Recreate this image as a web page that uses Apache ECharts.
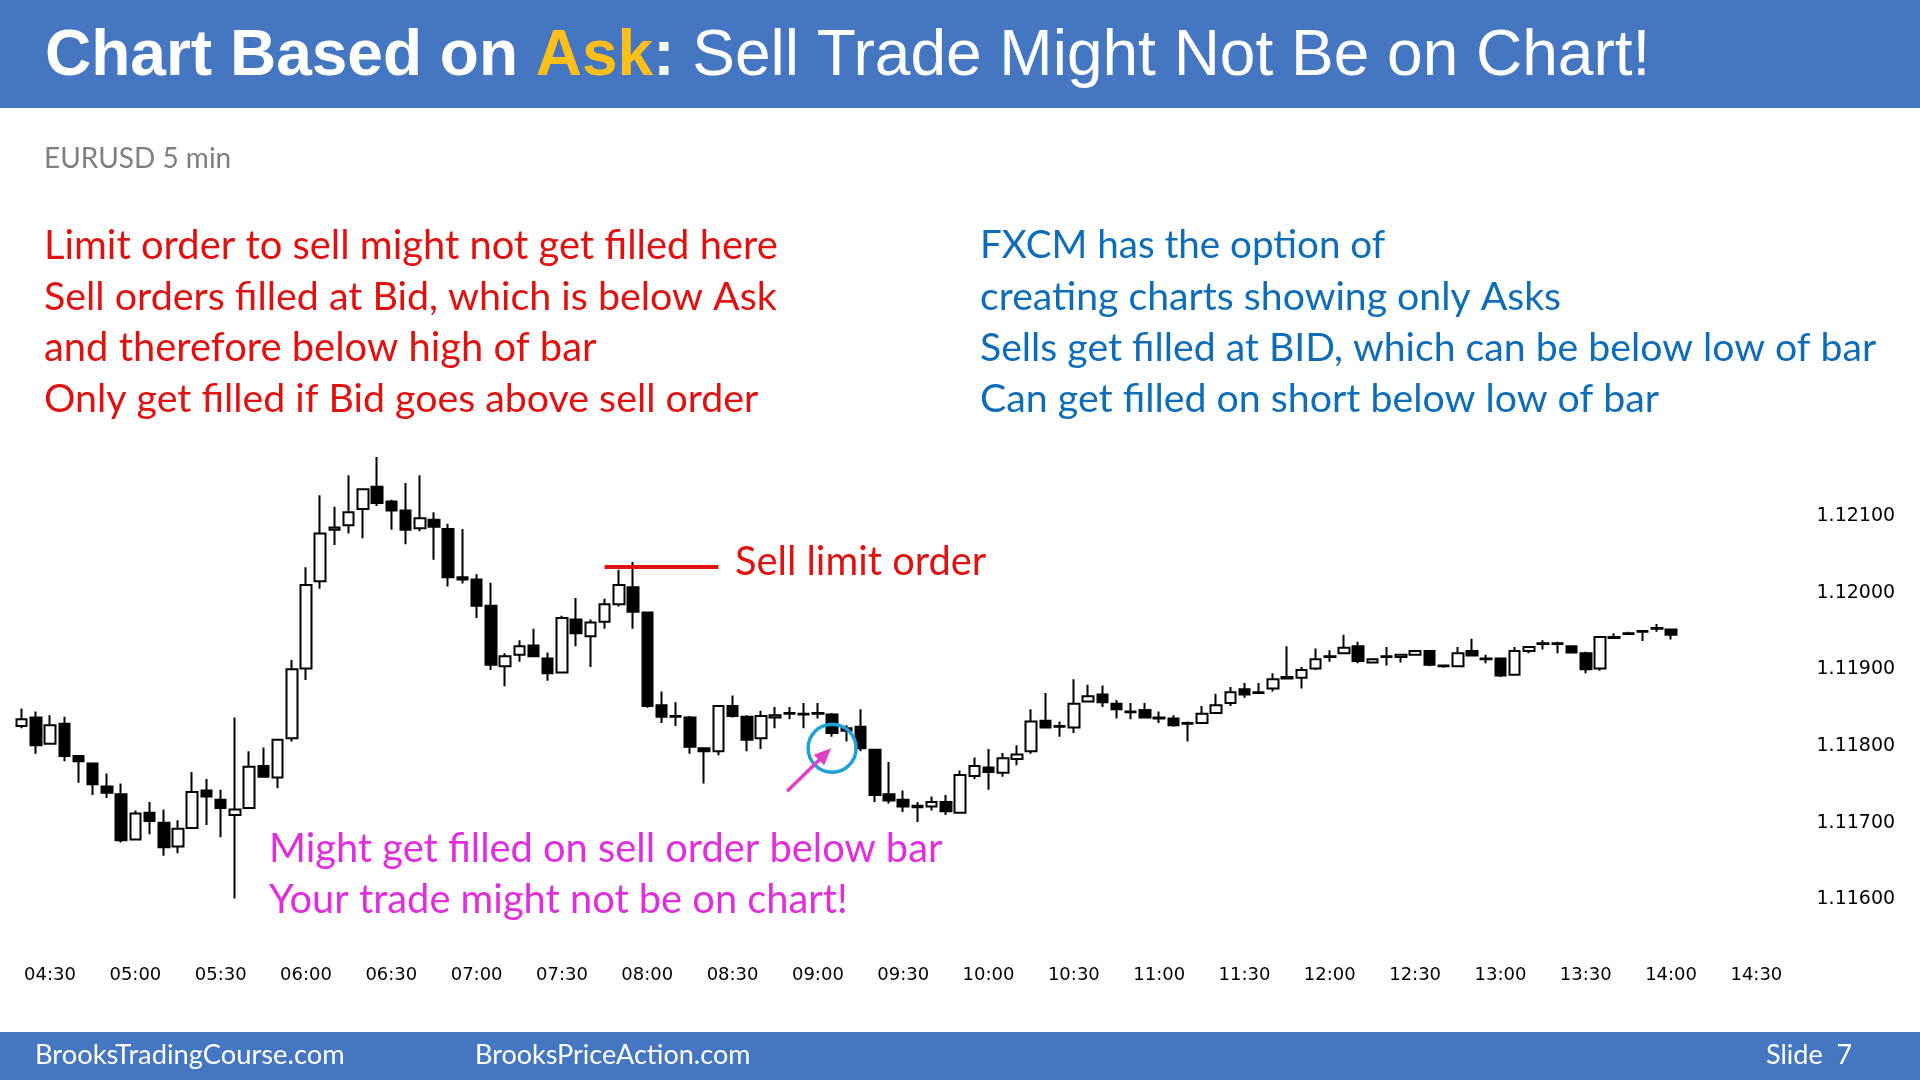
<!DOCTYPE html>
<html>
<head>
<meta charset="utf-8">
<script src="https://cdn.jsdelivr.net/npm/echarts/dist/echarts.min.js"></script>
<style>
html,body{margin:0;padding:0;background:#fff;}
#chart{width:1920px;height:1080px;}
</style>
</head>
<body>
<div id="chart"></div>
<script>
// ---- data ----
const startTime = '04:20';
const barMinutes = 5;
const categoryCount = 123; // 04:20 .. 14:30
const categories = [];
(function(){
  const p = startTime.split(':');
  const s = (+p[0]) * 60 + (+p[1]);
  for (let i = 0; i < categoryCount; i++) {
    const m = s + barMinutes * i;
    categories.push(String(Math.floor(m / 60)).padStart(2, '0') + ':' + String(m % 60).padStart(2, '0'));
  }
})();

const opens = [
1.11826,1.11837,1.11803,1.11829,1.11787,1.11777,1.11747,1.11737,1.11678,1.11713,
1.11700,1.11669,1.11693,1.11742,1.11730,1.11710,1.11719,1.11774,1.11759,1.11810,
1.11901,1.12015,1.12082,1.12088,1.12109,1.12138,1.12119,1.12107,1.12084,1.12095,
1.12083,1.12020,1.12017,1.11983,1.11904,1.11919,1.11931,1.11914,1.11896,1.11965,
1.11943,1.11962,1.11985,1.12007,1.11974,1.11853,1.11839,1.11837,1.11797,1.11793,
1.11852,1.11838,1.11810,1.11837,1.11842,1.11841,1.11843,1.11841,1.11823,1.11825,
1.11795,1.11737,1.11730,1.11722,1.11721,1.11727,1.11713,1.11761,1.11772,1.11765,
1.11783,1.11793,1.11833,1.11826,1.11824,1.11858,1.11867,1.11855,1.11845,1.11847,
1.11837,1.11836,1.11830,1.11830,1.11843,1.11856,1.11874,1.11870,1.11875,1.11890,
1.11889,1.11901,1.11916,1.11921,1.11930,1.11909,1.11917,1.11916,1.11919,1.11924,
1.11905,1.11904,1.11924,1.11914,1.11914,1.11893,1.11924,1.11933,1.11934,1.11930,
1.11921,1.11901,1.11941,1.11946,1.11950,1.11953,1.11952
];
const closes = [
1.11835,1.11801,1.11827,1.11787,1.11780,1.11750,1.11739,1.11677,1.11712,1.11702,
1.11668,1.11692,1.11740,1.11734,1.11719,1.11717,1.11773,1.11760,1.11808,1.11900,
1.12010,1.12077,1.12085,1.12105,1.12135,1.12117,1.12107,1.12082,1.12097,1.12086,
1.12020,1.12017,1.11983,1.11906,1.11917,1.11930,1.11917,1.11895,1.11967,1.11947,
1.11961,1.11985,1.12010,1.11975,1.11852,1.11838,1.11838,1.11799,1.11793,1.11852,
1.11839,1.11808,1.11839,1.11840,1.11843,1.11842,1.11842,1.11817,1.11820,1.11797,
1.11736,1.11729,1.11721,1.11720,1.11727,1.11715,1.11762,1.11774,1.11766,1.11784,
1.11789,1.11832,1.11824,1.11825,1.11855,1.11865,1.11857,1.11848,1.11844,1.11837,
1.11836,1.11827,1.11829,1.11842,1.11853,1.11870,1.11867,1.11869,1.11887,1.11888,
1.11899,1.11913,1.11917,1.11928,1.11911,1.11913,1.11916,1.11919,1.11924,1.11906,
1.11904,1.11921,1.11918,1.11913,1.11892,1.11924,1.11929,1.11934,1.11933,1.11922,
1.11900,1.11942,1.11942,1.11947,1.11949,1.11954,1.11945
];
const lows = [
1.11823,1.11790,1.11803,1.11780,1.11752,1.11736,1.11732,1.11674,1.11677,1.11685,
1.11657,1.11660,1.11692,1.11697,1.11681,1.11601,1.11718,1.11759,1.11745,1.11806,
1.11886,1.12005,1.12062,1.12077,1.12071,1.12113,1.12082,1.12063,1.12080,1.12043,
1.12008,1.12012,1.11967,1.11899,1.11878,1.11910,1.11916,1.11885,1.11895,1.11930,
1.11903,1.11953,1.11982,1.11953,1.11850,1.11830,1.11826,1.11790,1.11751,1.11788,
1.11837,1.11793,1.11796,1.11823,1.11835,1.11823,1.11836,1.11812,1.11806,1.11793,
1.11727,1.11725,1.11714,1.11701,1.11716,1.11710,1.11712,1.11757,1.11743,1.11760,
1.11775,1.11790,1.11823,1.11812,1.11817,1.11857,1.11851,1.11836,1.11835,1.11836,
1.11830,1.11825,1.11806,1.11829,1.11843,1.11852,1.11863,1.11868,1.11871,1.11887,
1.11875,1.11899,1.11910,1.11920,1.11908,1.11909,1.11905,1.11909,1.11918,1.11904,
1.11902,1.11903,1.11918,1.11908,1.11890,1.11892,1.11921,1.11926,1.11921,1.11921,
1.11895,1.11898,1.11940,1.11945,1.11937,1.11949,1.11939
];
const highs = [
1.11849,1.11845,1.11840,1.11838,1.11787,1.11777,1.11764,1.11751,1.11716,1.11727,
1.11717,1.11703,1.11766,1.11757,1.11743,1.11837,1.11793,1.11798,1.11809,1.11912,
1.12033,1.12127,1.12112,1.12153,1.12136,1.12177,1.12121,1.12143,1.12153,1.12105,
1.12090,1.12083,1.12024,1.12013,1.11921,1.11938,1.11953,1.11922,1.11970,1.11993,
1.11965,1.11992,1.12030,1.12040,1.11975,1.11871,1.11857,1.11839,1.11797,1.11853,
1.11866,1.11840,1.11846,1.11851,1.11851,1.11856,1.11856,1.11843,1.11827,1.11848,
1.11796,1.11779,1.11742,1.11727,1.11734,1.11736,1.11768,1.11785,1.11796,1.11791,
1.11801,1.11848,1.11869,1.11832,1.11887,1.11880,1.11879,1.11860,1.11856,1.11856,
1.11845,1.11840,1.11832,1.11852,1.11868,1.11877,1.11882,1.11882,1.11895,1.11930,
1.11903,1.11927,1.11925,1.11945,1.11936,1.11913,1.11929,1.11920,1.11925,1.11925,
1.11906,1.11929,1.11940,1.11919,1.11915,1.11929,1.11930,1.11938,1.11936,1.11931,
1.11923,1.11943,1.11947,1.11949,1.11951,1.11959,1.11953
];

const sellLimitPrice = 1.12034;
const sellLimitFromBar = 41;
const sellLimitToBar = 49;
const circleBar = 57;
const circlePrice = 1.11797;

const yMin = 1.115, yMax = 1.122, yStep = 0.001;

const titleBold = 'Chart Based on ';
const titleAsk = 'Ask';
const titleRest = ' Sell Trade Might Not Be on Chart!';
const subTitle = 'EURUSD 5 min';
const redLines = [
  'Limit order to sell might not get filled here',
  'Sell orders filled at Bid, which is below Ask',
  'and therefore below high of bar',
  'Only get filled if Bid goes above sell order'
];
const blueLines = [
  'FXCM has the option of',
  'creating charts showing only Asks',
  'Sells get filled at BID, which can be below low of bar',
  'Can get filled on short below low of bar'
];
const magentaLines = [
  'Might get filled on sell order below bar',
  'Your trade might not be on chart!'
];
const sellLimitLabel = 'Sell limit order';
const footerLeft = 'BrooksTradingCourse.com';
const footerMid = 'BrooksPriceAction.com';
const footerRight = 'Slide  7';

// ---- chart ----
const candleData = opens.map((o, i) => [o, closes[i], lows[i], highs[i]]);
const chart = echarts.init(document.getElementById('chart'), null, {renderer: 'canvas'});

const RED = '#E0110F', BLUE = '#0E6DB8', MAGENTA = '#E12DDE', HEADER = '#4576C2';
const TXT_FONT = 'Lato';

chart.setOption({
  animation: false,
  backgroundColor: '#ffffff',
  grid: {left: 14.5, right: 156.5, top: 439.3, bottom: 104},
  xAxis: {
    type: 'category', data: categories, boundaryGap: true, offset: -20,
    axisLine: {show: false}, axisTick: {show: false}, splitLine: {show: false},
    axisLabel: {
      interval: function (idx) { return (idx - 2) % 6 === 0; },
      color: '#000', fontFamily: 'DejaVu Sans', fontSize: 18, margin: 10
    }
  },
  yAxis: {
    type: 'value', position: 'right', min: yMin, max: yMax, interval: yStep,
    axisLine: {show: false}, axisTick: {show: false}, splitLine: {show: false},
    axisLabel: {
      showMinLabel: false, showMaxLabel: false,
      formatter: function (v) { return v.toFixed(5); },
      color: '#000', fontFamily: 'DejaVu Sans', fontSize: 19, margin: 53, align: 'left'
    }
  },
  series: [{
    type: 'candlestick',
    data: candleData,
    barWidth: 11,
    itemStyle: {color: '#ffffff', color0: '#000000', borderColor: '#000000', borderColor0: '#000000', borderColorDoji: '#000000', borderWidth: 2},
    markLine: {
      silent: true, animation: false,
      symbol: ['none', 'none'],
      label: {show: false},
      lineStyle: {color: RED, width: 4, type: 'solid'},
      data: [[{coord: [sellLimitFromBar, sellLimitPrice]}, {coord: [sellLimitToBar, sellLimitPrice]}]]
    }
  }]
});

const center = chart.convertToPixel({xAxisIndex: 0, yAxisIndex: 0}, [circleBar, circlePrice]);
const tip = [center[0] - 1, center[1]];
const tail = [center[0] - 45, center[1] + 43];
const dx = tip[0] - tail[0], dy = tip[1] - tail[1];
const len = Math.sqrt(dx * dx + dy * dy);
const ux = dx / len, uy = dy / len;
const px = -uy, py = ux;
const headLen = 17, headHalf = 7.5;
const base = [tip[0] - ux * headLen, tip[1] - uy * headLen];

function txt(x, y, text, size, color, family, weight) {
  return {type: 'text', x: x, y: y, silent: true, z: 10,
    style: {text: text, fill: color, fontSize: size, fontFamily: family || TXT_FONT, fontWeight: weight || 'normal', align: 'left', verticalAlign: 'middle'}};
}

const graphics = [
  {type: 'rect', shape: {x: 0, y: 0, width: 1920, height: 108}, style: {fill: HEADER}, silent: true, z: 1},
  {type: 'rect', shape: {x: 0, y: 1032, width: 1920, height: 48}, style: {fill: HEADER}, silent: true, z: 1},
  {type: 'text', x: 45, y: 57, silent: true, z: 10,
    style: {
      text: '{b|' + titleBold + '}{o|' + titleAsk + '}{b|:}{r|' + titleRest + '}',
      verticalAlign: 'middle', align: 'left',
      rich: {
        b: {fill: '#ffffff', fontFamily: 'Liberation Sans', fontWeight: 'bold', fontSize: 64},
        o: {fill: '#FDBF1A', fontFamily: 'Liberation Sans', fontWeight: 'bold', fontSize: 64},
        r: {fill: '#ffffff', fontFamily: 'Liberation Sans', fontWeight: 'normal', fontSize: 64}
      }
    }},
  txt(44, 159, subTitle, 28, '#7F7F7F'),
  txt(735, 562, sellLimitLabel, 39.8, RED),
  txt(269, 849, magentaLines[0], 39.8, MAGENTA),
  txt(269, 900, magentaLines[1], 39.8, MAGENTA),
  txt(35, 1055, footerLeft, 27.3, '#ffffff'),
  txt(475, 1055, footerMid, 27, '#ffffff'),
  txt(1766, 1055, footerRight, 27, '#ffffff'),
  {type: 'circle', shape: {cx: center[0], cy: center[1], r: 24}, style: {fill: 'none', stroke: '#21A0D8', lineWidth: 3.5}, silent: true, z: 20},
  {type: 'line', shape: {x1: tail[0], y1: tail[1], x2: base[0] + ux * 2, y2: base[1] + uy * 2}, style: {stroke: '#E040C4', lineWidth: 3.5}, silent: true, z: 20},
  {type: 'polygon', shape: {points: [tip, [base[0] + px * headHalf, base[1] + py * headHalf], [base[0] - px * headHalf, base[1] - py * headHalf]]}, style: {fill: '#E040C4'}, silent: true, z: 20}
];
const lineYs = [246, 297, 348, 399];
const redSizes = [39.9, 39.4, 39.9, 39.3];
const blueSizes = [38.6, 39.2, 39.2, 39.3];
redLines.forEach((t, i) => graphics.push(txt(44, lineYs[i], t, redSizes[i], RED)));
blueLines.forEach((t, i) => graphics.push(txt(980, lineYs[i], t, blueSizes[i], BLUE)));

chart.setOption({graphic: graphics});
</script>
</body>
</html>
